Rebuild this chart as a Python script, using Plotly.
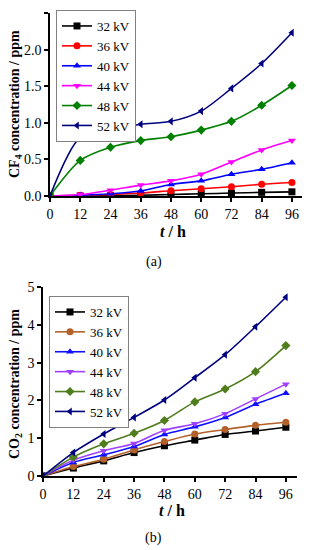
import plotly.graph_objects as go

hours = [0, 12, 24, 36, 48, 60, 72, 84, 96]
x_ticks = [0, 12, 24, 36, 48, 60, 72, 84, 96]
series_names = ["32 kV", "36 kV", "40 kV", "44 kV", "48 kV", "52 kV"]

# CF4 concentration (ppm), panel (a)
cf4_32 = [0, 0.0, 0.005, 0.01, 0.02, 0.03, 0.04, 0.05, 0.057]
cf4_36 = [0, 0.01, 0.02, 0.04, 0.072, 0.10, 0.126, 0.16, 0.185]
cf4_40 = [0, 0.01, 0.03, 0.068, 0.158, 0.207, 0.297, 0.365, 0.455]
cf4_44 = [0, 0.02, 0.08, 0.149, 0.207, 0.297, 0.464, 0.63, 0.757]
cf4_48 = [0, 0.486, 0.666, 0.757, 0.81, 0.90, 1.02, 1.24, 1.51]
cf4_52 = [0, 0.80, 0.90, 0.98, 1.02, 1.16, 1.47, 1.81, 2.23]

# CO2 concentration (ppm), panel (b)
co2_32 = [0, 0.21, 0.40, 0.62, 0.80, 0.95, 1.10, 1.19, 1.29]
co2_36 = [0, 0.25, 0.44, 0.69, 0.91, 1.11, 1.23, 1.34, 1.42]
co2_40 = [0, 0.36, 0.56, 0.78, 1.10, 1.30, 1.55, 1.90, 2.19]
co2_44 = [0, 0.42, 0.67, 0.86, 1.21, 1.38, 1.65, 2.04, 2.43]
co2_48 = [0, 0.50, 0.85, 1.13, 1.47, 1.96, 2.30, 2.76, 3.45]
co2_52 = [0, 0.62, 1.11, 1.55, 2.01, 2.60, 3.21, 3.95, 4.73]

cf4_data = [cf4_32, cf4_36, cf4_40, cf4_44, cf4_48, cf4_52]
co2_data = [co2_32, co2_36, co2_40, co2_44, co2_48, co2_52]

symbols = ["square", "circle", "triangle-up", "triangle-down", "diamond", "triangle-left"]
colors_a = ["#000000", "#ff0000", "#0000ff", "#ff00ff", "#008000", "#000080"]
colors_b = ["#000000", "#b4602a", "#1010ff", "#a040ff", "#4f7d1d", "#000080"]

FONT = "Liberation Serif"

# page has an 8px body margin; size figure to fit the 312x550 window
OFF = 8
W, H = 312 - OFF, 550 - OFF


def px(x):
    return (x - OFF) / W


def py(y):
    return 1 - (y - OFF) / H


fig = go.Figure()

for name, ys, sym, col in zip(series_names, cf4_data, symbols, colors_a):
    fig.add_trace(go.Scatter(
        x=hours, y=ys, name=name, mode="lines+markers",
        line=dict(color=col, width=1.6, shape="spline", smoothing=0.8),
        marker=dict(symbol=sym, size=7, color=col),
        xaxis="x", yaxis="y", legend="legend",
    ))

for name, ys, sym, col in zip(series_names, co2_data, symbols, colors_b):
    fig.add_trace(go.Scatter(
        x=hours, y=ys, name=name, mode="lines+markers",
        line=dict(color=col, width=1.6, shape="spline", smoothing=0.8),
        marker=dict(symbol=sym, size=7, color=col),
        xaxis="x2", yaxis="y2", legend="legend2",
    ))

axis_common = dict(
    showline=True, linecolor="black", linewidth=1.5,
    ticks="outside", ticklen=4, tickwidth=1.5, tickcolor="black",
    showgrid=False, zeroline=False, automargin=False,
    tickfont=dict(family=FONT, size=14, color="black"),
)

ann_font = dict(family=FONT, size=14, color="black")

fig.update_layout(
    width=W, height=H,
    margin=dict(l=0, r=0, t=0, b=0),
    paper_bgcolor="white", plot_bgcolor="white",
    font=dict(family=FONT, color="black"),
    showlegend=True,
    xaxis=dict(domain=[px(50), px(302)], range=[0, 100], anchor="y",
               tickvals=x_ticks, **axis_common),
    yaxis=dict(domain=[py(196), py(13)], range=[0, 2.5], anchor="x",
               tickvals=[0, 0.5, 1.0, 1.5, 2.0, 2.5], tickformat=".1f",
               **axis_common),
    xaxis2=dict(domain=[px(43), px(297)], range=[0, 100.4], anchor="y2",
                tickvals=x_ticks, **axis_common),
    yaxis2=dict(domain=[py(476), py(287)], range=[0, 5], anchor="x2",
                tickvals=[0, 1, 2, 3, 4, 5], **axis_common),
    legend=dict(x=px(56), y=py(10), xanchor="left", yanchor="top",
                bgcolor="white", bordercolor="#808080", borderwidth=1,
                font=dict(family=FONT, size=13), itemwidth=30, tracegroupgap=0),
    legend2=dict(x=px(49), y=py(296), xanchor="left", yanchor="top",
                 bgcolor="white", bordercolor="#808080", borderwidth=1,
                 font=dict(family=FONT, size=13), itemwidth=30, tracegroupgap=0),
    annotations=[
        dict(text="<b>CF<sub>4</sub> concentration / ppm</b>", x=px(15), y=py(104),
             xref="paper", yref="paper", textangle=-90, showarrow=False,
             xanchor="center", yanchor="middle", font=ann_font),
        dict(text="<b>CO<sub>2</sub> concentration / ppm</b>", x=px(15), y=py(384),
             xref="paper", yref="paper", textangle=-90, showarrow=False,
             xanchor="center", yanchor="middle", font=ann_font),
        dict(text="<b><i>t</i> / h</b>", x=px(173), y=py(231), xref="paper", yref="paper",
             showarrow=False, xanchor="center", yanchor="middle",
             font=dict(family=FONT, size=16, color="black")),
        dict(text="<b><i>t</i> / h</b>", x=px(172), y=py(510), xref="paper", yref="paper",
             showarrow=False, xanchor="center", yanchor="middle",
             font=dict(family=FONT, size=16, color="black")),
        dict(text="(a)", x=px(154), y=py(262), xref="paper", yref="paper",
             showarrow=False, xanchor="center", yanchor="middle", font=ann_font),
        dict(text="(b)", x=px(153), y=py(538), xref="paper", yref="paper",
             showarrow=False, xanchor="center", yanchor="middle", font=ann_font),
    ],
)

fig.write_html("out.html")
